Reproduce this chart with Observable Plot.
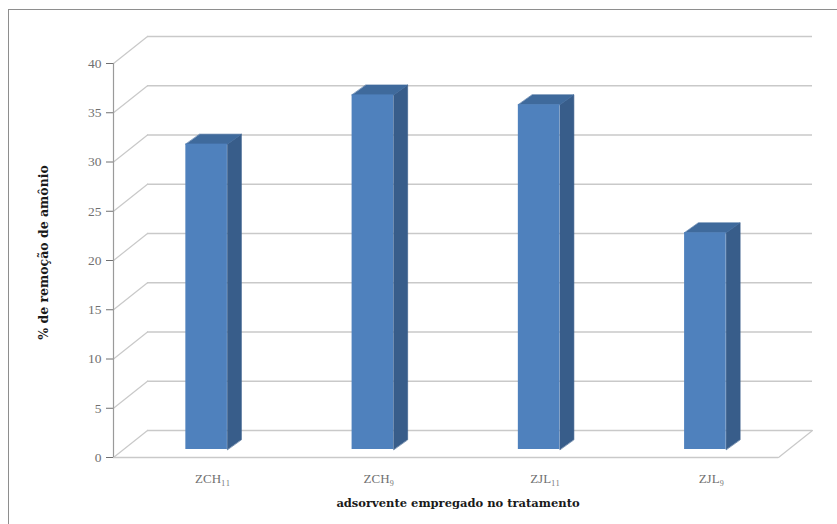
<!DOCTYPE html>
<html>
<head>
<meta charset="utf-8">
<script src="https://cdn.jsdelivr.net/npm/d3@7"></script>
<script src="https://cdn.jsdelivr.net/npm/@observablehq/plot@0.6"></script>
<style>
  html, body { margin: 0; padding: 0; background: #fff; }
  #wrap { position: relative; width: 837px; height: 524px; overflow: hidden; background: #fff; }
  #border { position: absolute; left: 8px; top: 9px; width: 900px; height: 600px; border: 1.5px solid #8e8e8e; box-sizing: border-box; }
  #chart { position: absolute; left: 0; top: 0; }
</style>
</head>
<body>
<div id="wrap"><div id="border"></div><div id="chart"></div></div>
<script>
// ---- data ----
const categories = ["ZCH11", "ZCH9", "ZJL11", "ZJL9"];
const categoryLabels = ["ZCH\u2081\u2081", "ZCH\u2089", "ZJL\u2081\u2081", "ZJL\u2089"];
const removal = [31, 36, 35, 22];
const yTicks = [0, 5, 10, 15, 20, 25, 30, 35, 40];
const yTitle = "% de remoção de amônio";
const xTitle = "adsorvente empregado no tratamento";

// ---- style constants ----
const wallDX = 34, wallDY = -27;      // depth of the back wall (px)
const barDX = 10, barDY = -8;         // bar front face depth (px)
const depthDX = 14, depthDY = -10;    // bar thickness in depth (px)
const hw = 0.125;                     // half bar width (band units)
const gridColor = "#c9c9c9";
const frontColor = "#4f81bd", sideColor = "#385d8a", topColor = "#3f6a9c";
const titleFont = "'DejaVu Serif', serif";

// custom curve: extrudes a polyline by a pixel offset into a closed polygon
const extrude = (ox, oy) => (context) => {
  let pts = [];
  return {
    areaStart() {}, areaEnd() {},
    lineStart() { pts = []; },
    point(x, y) { pts.push([+x, +y]); },
    lineEnd() {
      if (!pts.length) return;
      context.moveTo(pts[0][0], pts[0][1]);
      for (let k = 1; k < pts.length; ++k) context.lineTo(pts[k][0], pts[k][1]);
      for (let k = pts.length - 1; k >= 0; --k) context.lineTo(pts[k][0] + ox, pts[k][1] + oy);
      context.closePath();
    }
  };
};

const data = categories.map((c, i) => ({cat: c, label: categoryLabels[i], i, v: removal[i]}));
const topRows = data.flatMap(d => [{cat: d.cat, x: d.i - hw, y: d.v}, {cat: d.cat, x: d.i + hw, y: d.v}]);
const sideRows = data.flatMap(d => [{cat: d.cat, x: d.i + hw, y: 0}, {cat: d.cat, x: d.i + hw, y: d.v}]);
const xDomain = [-0.5, categories.length - 0.5];

const chart = Plot.plot({
  width: 837,
  height: 524,
  marginLeft: 113,
  marginRight: 59,
  marginTop: 63,
  marginBottom: 67,
  style: {fontFamily: "'Liberation Serif', 'DejaVu Serif', serif", fontSize: "13.5px", color: "#707070", background: "transparent"},
  x: {domain: xDomain, axis: null},
  y: {domain: [0, 40], ticks: yTicks, tickSize: 7, tickPadding: 5, label: null},
  marks: [
    // back wall gridlines
    Plot.ruleY(yTicks, {dx: wallDX, dy: wallDY, stroke: gridColor, strokeWidth: 1.3}),
    // side wall slanted gridlines
    Plot.line(yTicks, {x: () => xDomain[0], y: d => d, z: d => d, curve: extrude(wallDX, wallDY), stroke: gridColor, strokeWidth: 1.2}),
    // floor right edge
    Plot.line([0], {x: () => xDomain[1], y: d => d, curve: extrude(wallDX, wallDY), stroke: gridColor, strokeWidth: 1.2}),
    // floor front edge
    Plot.ruleY([0], {stroke: gridColor, strokeWidth: 1.3}),
    // vertical axis line
    Plot.ruleX([xDomain[0]], {y1: 0, y2: 40, stroke: "#9a9a9a", strokeWidth: 1.2}),
    // bar side faces
    Plot.line(sideRows, {x: "x", y: "y", z: "cat", curve: extrude(depthDX, depthDY), fill: sideColor, stroke: sideColor, strokeWidth: 0.6, dx: barDX, dy: barDY}),
    // bar top faces
    Plot.line(topRows, {x: "x", y: "y", z: "cat", curve: extrude(depthDX, depthDY), fill: topColor, stroke: topColor, strokeWidth: 0.6, dx: barDX, dy: barDY}),
    // bar front faces
    Plot.rect(data, {x1: d => d.i - hw, x2: d => d.i + hw, y1: 0, y2: "v", fill: frontColor, dx: barDX, dy: barDY}),
    // category labels
    Plot.text(data, {x: "i", y: 0, text: "label", dy: 21, dx: 16, fill: "#707070", fontSize: 13}),
    // axis titles
    Plot.text([xTitle], {text: d => d, frameAnchor: "bottom", textAnchor: "middle", lineAnchor: "middle", dx: 12, dy: 46, fontWeight: "bold", fontSize: 11.5, fontFamily: titleFont, fill: "#1a1a1a"}),
    Plot.text([yTitle], {text: d => d, frameAnchor: "left", textAnchor: "middle", lineAnchor: "middle", dx: -70, dy: -8, rotate: -90, fontWeight: "bold", fontSize: 12.5, fontFamily: titleFont, fill: "#1a1a1a"})
  ]
});
document.getElementById("chart").appendChild(chart);
</script>
</body>
</html>
